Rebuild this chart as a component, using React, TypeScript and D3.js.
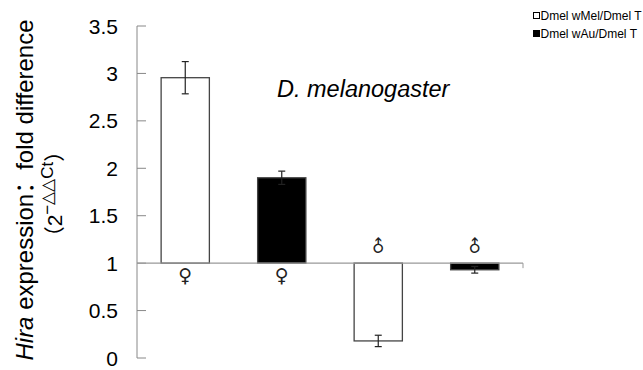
import React from "react";
import * as d3 from "d3";

const categories = ["F wMel", "F wAu", "M wMel", "M wAu"];
const series = ["Dmel wMel/Dmel T", "Dmel wAu/Dmel T", "Dmel wMel/Dmel T", "Dmel wAu/Dmel T"];
const values = [2.955, 1.9, 0.18, 0.93];
const errors = [0.17, 0.07, 0.06, 0.035];
const sexes = ["♀", "♀", "♂", "♂"];
const yTicks = [0, 0.5, 1, 1.5, 2, 2.5, 3, 3.5];
const legendItems = ["Dmel wMel/Dmel T", "Dmel wAu/Dmel T"];

const W = 643;
const H = 370;
const FONT = "Arial, 'Liberation Sans', sans-serif";
const CJK = "'Noto Sans CJK SC'";

export default function App() {
  const y = d3.scaleLinear().domain([0, 3.5]).range([358, 26]);
  const x = d3.scaleBand<string>().domain(categories).range([137, 523]).paddingInner(0.5).paddingOuter(0.25);
  const base = y(1);
  const fillFor = (s: string) => (s === legendItems[0] ? "#fff" : "#000");

  return (
    <svg width={W} height={H} style={{ position: "absolute", left: 0, top: 0, background: "#fff" }} fontFamily={FONT}>
      {/* y axis */}
      <line x1={137} x2={137} y1={y(3.5)} y2={y(0)} stroke="#888" strokeWidth={1} />
      {yTicks.map((t) => (
        <g key={t}>
          <line x1={137} x2={146} y1={y(t)} y2={y(t)} stroke="#888" strokeWidth={1} />
          <text x={118} y={y(t)} textAnchor="end" dominantBaseline="central" fontSize={21} fill="#000">
            {String(t)}
          </text>
        </g>
      ))}
      {/* bars */}
      {categories.map((c, i) => {
        const v = values[i];
        const top = Math.min(y(v), base);
        const h = Math.abs(y(v) - base);
        const x0 = x(c)!;
        const cx = x0 + x.bandwidth() / 2;
        const e1 = y(v + errors[i]);
        const e2 = y(v - errors[i]);
        return (
          <g key={c}>
            <rect x={x0} y={top} width={x.bandwidth()} height={h} fill={fillFor(series[i])} stroke="#444" strokeWidth={1.3} />
            <line x1={cx} x2={cx} y1={e1} y2={e2} stroke="#222" strokeWidth={1.2} />
            <line x1={cx - 3.5} x2={cx + 3.5} y1={e1} y2={e1} stroke="#222" strokeWidth={1.2} />
            <line x1={cx - 3.5} x2={cx + 3.5} y1={e2} y2={e2} stroke="#222" strokeWidth={1.2} />
          </g>
        );
      })}
      {/* baseline at 1 */}
      <line x1={137} x2={523} y1={base} y2={base} stroke="#999" strokeWidth={1.3} />
      <line x1={523} x2={523} y1={base} y2={base + 5} stroke="#999" strokeWidth={1} />
      {/* sex symbols */}
      {categories.map((c, i) => {
        const cx = x(c)! + x.bandwidth() / 2;
        if (sexes[i] === "♀") {
          return (
            <text key={c} x={cx} y={base + 19} textAnchor="middle" fontSize={19} fontFamily="'DejaVu Sans'" fill="#222">
              {sexes[i]}
            </text>
          );
        }
        return (
          <text key={c} x={0} y={0} textAnchor="middle" dominantBaseline="central" fontSize={17} fontFamily="'DejaVu Sans'" fill="#222"
            transform={`translate(${cx},${base - 17}) rotate(-45)`}>
            {sexes[i]}
          </text>
        );
      })}
      {/* title */}
      <text x={277} y={97} fontSize={23.5} fontStyle="italic" fill="#000">D. melanogaster</text>
      {/* y label */}
      <text transform={`translate(33,190) rotate(-90)`} textAnchor="middle" fontSize={24} fill="#000">
        <tspan fontStyle="italic">Hira</tspan>
        <tspan> expression</tspan>
        <tspan fontFamily={CJK}>：</tspan>
        <tspan>fold difference</tspan>
      </text>
      <text transform={`translate(62,194) rotate(-90)`} textAnchor="middle" fontSize={21} fill="#000">
        <tspan fontFamily={CJK}>（</tspan>
        <tspan>2</tspan>
        <tspan fontSize={17} dy={-9}>−△△Ct</tspan>
        <tspan dy={9} fontFamily={CJK}>）</tspan>
      </text>
      {/* legend */}
      {legendItems.map((s, i) => (
        <g key={s}>
          <rect x={533.5} y={12.5 + i * 18} width={6} height={6} fill={fillFor(s)} stroke="#000" strokeWidth={1} />
          <text x={540.5} y={15.5 + i * 18} dominantBaseline="central" fontSize={12} fill="#000">{s}</text>
        </g>
      ))}
    </svg>
  );
}
